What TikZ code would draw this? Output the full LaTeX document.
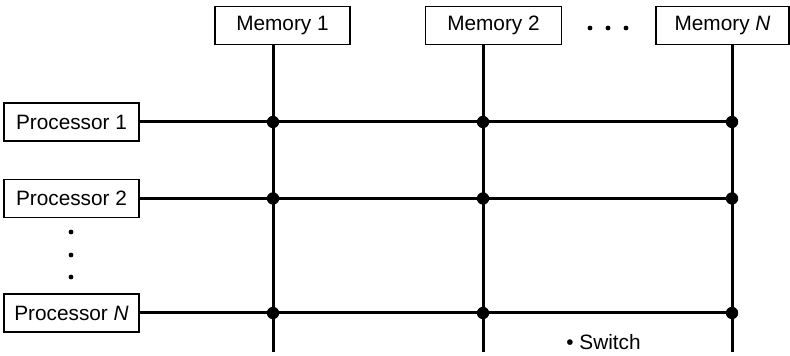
\documentclass[tikz,border=0pt]{standalone}
\usepackage{fontspec}
\setmainfont{Liberation Sans}
\usepackage{tikz}

\tikzset{
  unitbox/.style={draw,line width=0.8pt,minimum height=19pt,inner sep=0pt,font=\fontsize{10.4}{12}\selectfont},
  bus/.style={line width=1.5pt},
  junction/.style={circle,fill=black,inner sep=0pt,minimum size=6.2pt}
}

\begin{document}
\begin{tikzpicture}[x=0.5pt,y=-0.5pt]
  \useasboundingbox (0,0) rectangle (790,356);
  % memories
  \node[unitbox,minimum width=67.5pt] (mem1) at (282.5,25.5) {Memory 1};
  \node[unitbox,minimum width=68pt] (mem2) at (493.5,25.5) {Memory 2};
  \node[unitbox,minimum width=66.5pt] (memN) at (722.5,25.5) {Memory \textit{N}};
  \foreach \x in {590,608,626}{\fill (\x,28) circle (1.2pt);}
  % processors
  \node[unitbox,minimum width=67.5pt] (proc1) at (71.5,122) {Processor 1};
  \node[unitbox,minimum width=67.5pt] (proc2) at (71.5,198.5) {Processor 2};
  \node[unitbox,minimum width=67.5pt] (procN) at (71.5,313) {Processor \textit{N}};
  \foreach \y in {232,255,277}{\fill (71,\y) circle (1.2pt);}
  % columns
  \coordinate (col1) at (273,352);
  \coordinate (col2) at (483,352);
  \coordinate (colN) at (732,352);
  \foreach \m/\c in {mem1/col1,mem2/col2,memN/colN}{\draw[bus] (\m.south -| \c) -- (\c);}
  \foreach \p in {proc1,proc2,procN}{
    \draw[bus] (\p.east) -- (\p.east -| colN);
    \foreach \c in {col1,col2,colN}{\node[junction] (\p-\c) at (\p.east -| \c) {};}
  }
  \node[anchor=west,inner sep=0pt,font=\fontsize{10.4}{12}\selectfont] (switch) at (566,342) {• Switch};
\end{tikzpicture}
\end{document}
